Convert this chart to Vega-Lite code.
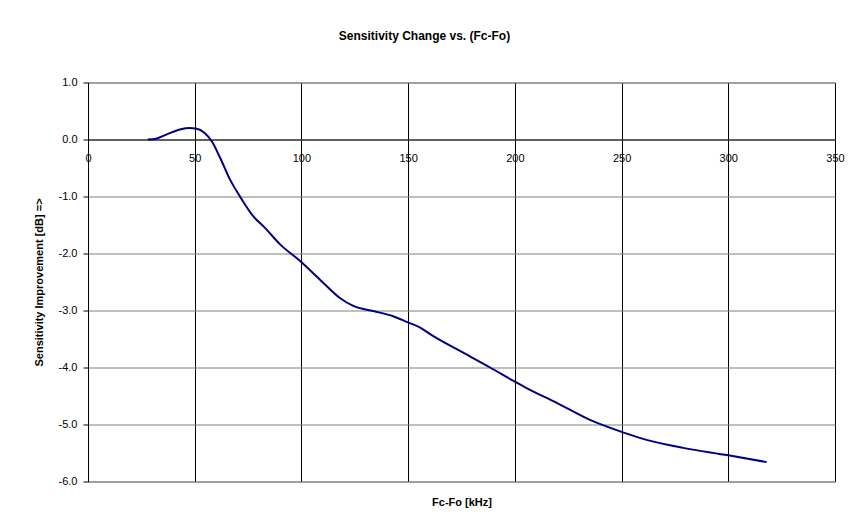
{
  "$schema": "https://vega.github.io/schema/vega-lite/v6.json",
  "width": 747,
  "height": 399,
  "autosize": {"type": "none"},
  "padding": {"left": 88, "top": 82.5, "right": 14, "bottom": 45.5},
  "background": "white",
  "title": {
    "text": "Sensitivity Change vs. (Fc-Fo)",
    "font": "Liberation Sans",
    "fontSize": 12,
    "fontWeight": "bold",
    "color": "black",
    "anchor": "middle",
    "dx": -37,
    "offset": 34
  },
  "config": {
    "view": {"stroke": "#808080", "strokeWidth": 1},
    "axis": {
      "labelFont": "Liberation Sans",
      "titleFont": "Liberation Sans",
      "labelColor": "black",
      "titleColor": "black",
      "labelFontSize": 11,
      "titleFontSize": 11,
      "titleFontWeight": "bold",
      "labelOverlap": false,
      "labelFlush": false,
      "labelBound": false
    }
  },
  "data": {
    "values": [
      {"f": 28, "s": 0.0},
      {"f": 31.4, "s": 0.01},
      {"f": 36.9, "s": 0.09},
      {"f": 43.5, "s": 0.18},
      {"f": 47.5, "s": 0.2},
      {"f": 51, "s": 0.19},
      {"f": 54.5, "s": 0.12},
      {"f": 58, "s": -0.03},
      {"f": 61.9, "s": -0.32},
      {"f": 66.5, "s": -0.7},
      {"f": 71.2, "s": -1.0},
      {"f": 77.5, "s": -1.35},
      {"f": 82.9, "s": -1.55},
      {"f": 90, "s": -1.84},
      {"f": 99, "s": -2.12},
      {"f": 108.7, "s": -2.46},
      {"f": 118, "s": -2.78},
      {"f": 124.3, "s": -2.92},
      {"f": 133.7, "s": -3.01},
      {"f": 143, "s": -3.1},
      {"f": 149.3, "s": -3.2},
      {"f": 155.6, "s": -3.3},
      {"f": 161.8, "s": -3.45},
      {"f": 174.3, "s": -3.71},
      {"f": 188.4, "s": -4.0},
      {"f": 199.6, "s": -4.24},
      {"f": 205.5, "s": -4.36},
      {"f": 219.6, "s": -4.62},
      {"f": 235.2, "s": -4.92},
      {"f": 250, "s": -5.13},
      {"f": 261.7, "s": -5.27},
      {"f": 278.9, "s": -5.41},
      {"f": 300, "s": -5.54},
      {"f": 318, "s": -5.66}
    ]
  },
  "mark": {"type": "line", "interpolate": "monotone", "color": "#000080", "strokeWidth": 2},
  "encoding": {
    "x": {
      "field": "f",
      "type": "quantitative",
      "scale": {"domain": [0, 350], "nice": false, "zero": false},
      "axis": {
        "values": [0, 50, 100, 150, 200, 250, 300, 350],
        "offset": -342,
        "ticks": false,
        "labelPadding": 13,
        "grid": true,
        "gridColor": "black",
        "gridOpacity": 1,
        "gridWidth": 1,
        "domainColor": "black",
        "domainWidth": 1,
        "title": "Fc-Fo [kHz]",
        "titleY": 362.5,
        "titleBaseline": "middle"
      }
    },
    "y": {
      "field": "s",
      "type": "quantitative",
      "scale": {"domain": [-6, 1], "nice": false, "zero": false},
      "axis": {
        "values": [-6, -5, -4, -3, -2, -1, 0, 1],
        "labelExpr": "replace(format(datum.value, '.1f'), '\u2212', '-')",
        "grid": true,
        "gridColor": "#808080",
        "gridOpacity": 1,
        "gridWidth": 1,
        "ticks": true,
        "tickSize": 5,
        "tickColor": "black",
        "domainColor": "black",
        "labelPadding": 6,
        "title": "Sensitivity Improvement [dB] =>",
        "titlePadding": 14
      }
    }
  }
}
